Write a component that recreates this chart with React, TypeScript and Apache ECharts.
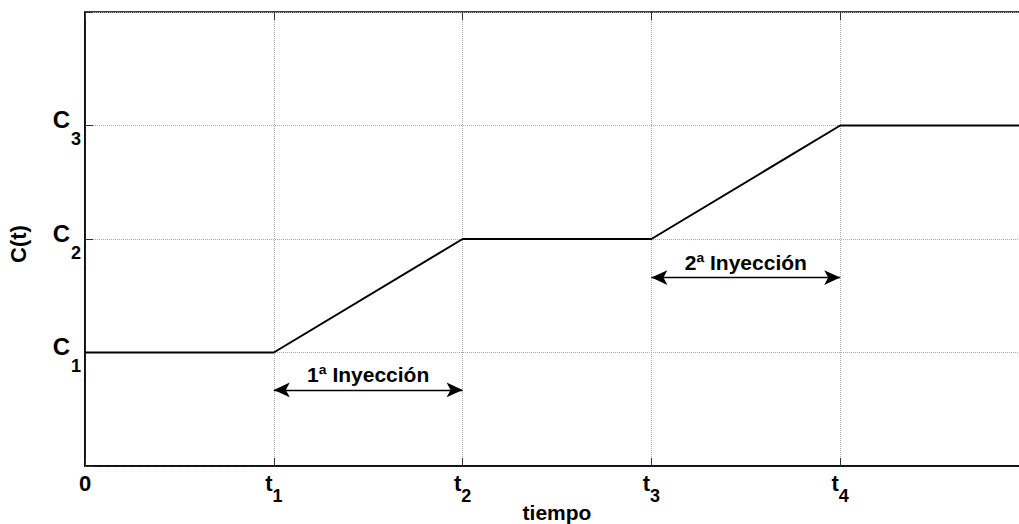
import React, { useEffect, useRef } from "react";
import * as echarts from "echarts";

const timeValues = [0, 1, 2, 3, 4, 5];
const concValues = [1, 1, 2, 2, 3, 3];
const xTickLabels = ["0", "t_1", "t_2", "t_3", "t_4", ""];
const yTickLabels = ["", "C_1", "C_2", "C_3", ""];
const injectionLabels = ["1ª Inyección", "2ª Inyección"];
const injectionStart = [1, 3];
const injectionEnd = [2, 4];
const injectionLevel = [0.67, 1.66];

const subLabel = (s: string) => {
  if (!s) return "";
  const parts = s.split("_");
  if (parts.length === 1) return `{m|${parts[0]}}`;
  return `{m|${parts[0]}}{s|${parts[1]}}`;
};

export default function App() {
  const ref = useRef<HTMLDivElement>(null);
  useEffect(() => {
    if (!ref.current) return;
    const chart = echarts.init(ref.current, null, { renderer: "svg" });
    const font = "'Liberation Sans', Arial, sans-serif";
    const markData = injectionLabels.map((lab, i) => [
      { coord: [injectionStart[i], injectionLevel[i]], name: lab },
      { coord: [injectionEnd[i], injectionLevel[i]] },
    ]);
    chart.setOption({
      animation: false,
      backgroundColor: "#fff",
      textStyle: { fontFamily: font },
      grid: {
        left: 85,
        top: 12,
        right: -10,
        bottom: 58,
        containLabel: false,
        outerBoundsMode: "none",
        show: true,
        borderColor: "#000",
        borderWidth: 1.5,
      },
      xAxis: [
        {
          type: "value",
          min: 0,
          max: 5,
          interval: 1,
          name: "tiempo",
          nameLocation: "middle",
          nameGap: 36,
          nameMoveOverlap: false,
          nameTextStyle: { fontFamily: font, fontWeight: "bold", fontSize: 21, color: "#000" },
          axisLine: { show: true, lineStyle: { color: "#000", width: 1.5 } },
          axisTick: { show: true, inside: true, length: 8, lineStyle: { color: "#333" } },
          splitLine: { show: true, lineStyle: { color: "#aaa", type: "dotted", width: 1 } },
          axisLabel: {
            margin: 6,
            showMinLabel: true,
            fontFamily: font,
            fontWeight: "bold",
            fontSize: 19,
            color: "#000",
            formatter: (v: number) => subLabel(xTickLabels[Math.round(v)] ?? ""),
            rich: {
              m: { fontFamily: font, fontWeight: "bold", fontSize: 22, color: "#000", lineHeight: 22 },
              s: { fontFamily: font, fontWeight: "bold", fontSize: 18, color: "#000", lineHeight: 18, padding: [25, 0, 0, 0] },
            },
          },
        },
        {
          type: "value",
          position: "top",
          min: 0,
          max: 5,
          interval: 1,
          axisLine: { show: false },
          axisTick: { show: true, inside: true, length: 8, lineStyle: { color: "#333" } },
          splitLine: { show: false },
          axisLabel: { show: false },
        },
      ],
      yAxis: {
        type: "value",
        min: 0,
        max: 4,
        interval: 1,
        name: "C(t)",
        nameLocation: "middle",
        nameGap: 56,
        nameMoveOverlap: false,
        nameTextStyle: { fontFamily: font, fontWeight: "bold", fontSize: 22, color: "#000", padding: [0, 10, 0, 0] },
        axisLine: { show: true, lineStyle: { color: "#000", width: 1.5 } },
        axisTick: { show: true, inside: true, length: 8, lineStyle: { color: "#333" } },
        splitLine: { show: true, lineStyle: { color: "#aaa", type: "dotted", width: 1 } },
        axisLabel: {
          margin: 4,
          formatter: (v: number) => subLabel(yTickLabels[Math.round(v)] ?? ""),
          rich: {
            m: { fontFamily: font, fontWeight: "bold", fontSize: 24, color: "#000", lineHeight: 24, padding: [0, 1, 12, 0] },
            s: { fontFamily: font, fontWeight: "bold", fontSize: 18, color: "#000", lineHeight: 18, padding: [27, 0, 0, 0] },
          },
        },
      },
      series: [
        {
          type: "line",
          data: timeValues.map((t, i) => [t, concValues[i]]),
          showSymbol: false,
          symbol: "none",
          lineStyle: { color: "#000", width: 2 },
          markLine: {
            silent: true,
            symbol: ["arrow", "arrow"],
            symbolSize: [11, 16],
            lineStyle: { color: "#000", width: 1.3, type: "solid" },
            label: {
              show: true,
              position: "insideMiddleTop",
              distance: 5,
              formatter: "{b}",
              fontFamily: font,
              fontWeight: "bold",
              fontSize: 21,
              color: "#000",
            },
            data: markData,
          },
        },
      ],
    });
    return () => chart.dispose();
  }, []);
  return (
    <div
      ref={ref}
      style={{ position: "fixed", left: 0, top: 0, width: 1019, height: 524, background: "#fff" }}
    />
  );
}
